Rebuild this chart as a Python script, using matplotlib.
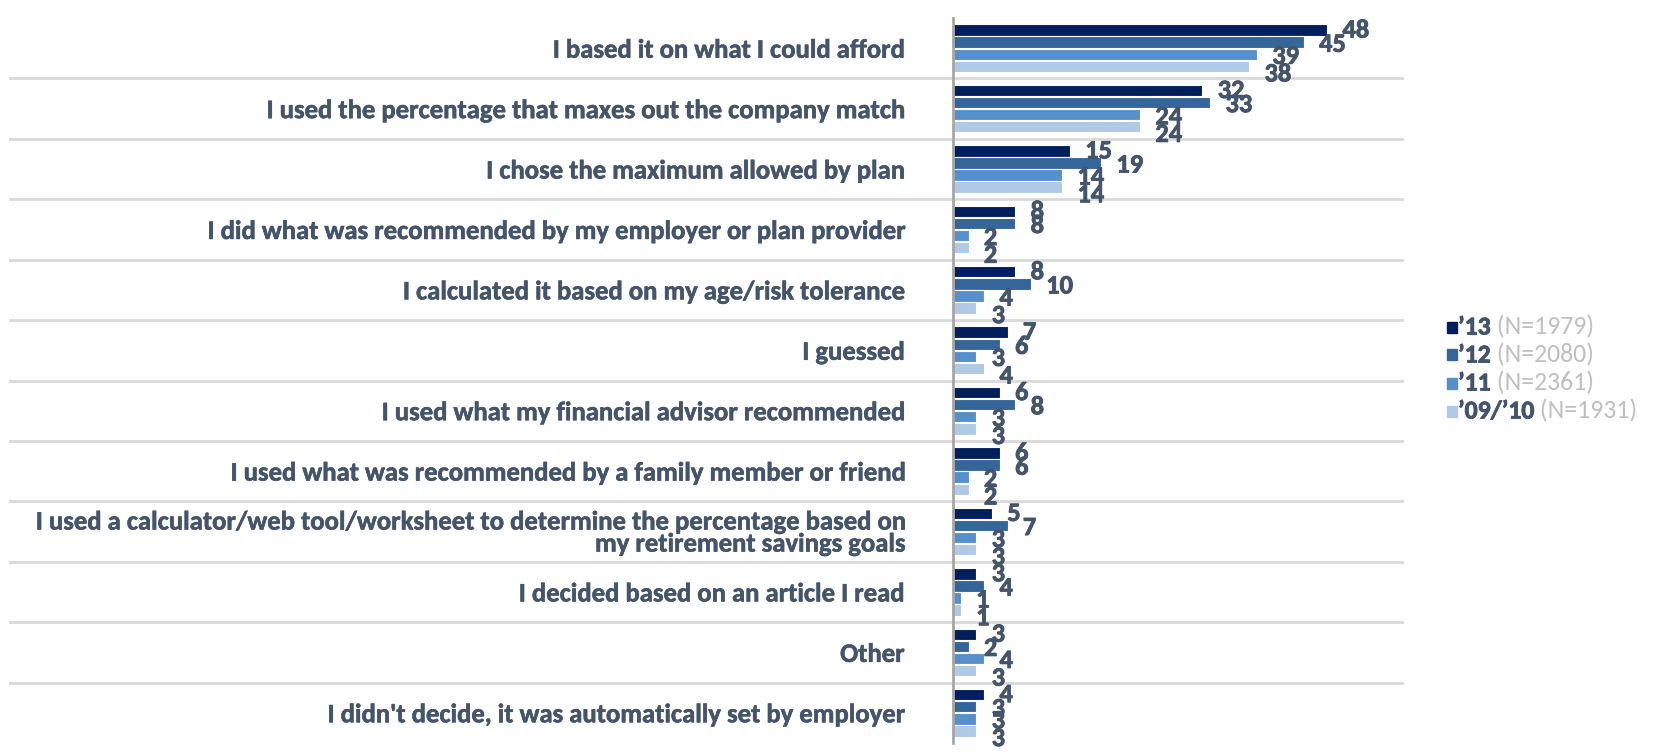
import numpy as np
import matplotlib
matplotlib.use("Agg")
import matplotlib.pyplot as plt
import matplotlib.transforms as mtransforms
import matplotlib.patheffects as pe
from matplotlib.patches import Rectangle

plt.rcParams['font.family'] = ['Carlito', 'DejaVu Sans']

categories = [
    "I based it on what I could afford",
    "I used the percentage that maxes out the company match",
    "I chose the maximum allowed by plan",
    "I did what was recommended by my employer or plan provider",
    "I calculated it based on my age/risk tolerance",
    "I guessed",
    "I used what my financial advisor recommended",
    "I used what was recommended by a family member or friend",
    "I used a calculator/web tool/worksheet to determine the percentage based on\nmy retirement savings goals",
    "I decided based on an article I read",
    "Other",
    "I didn't decide, it was automatically set by employer",
]
v13 = [48, 32, 15, 8, 8, 7, 6, 6, 5, 3, 3, 4]
v12 = [45, 33, 19, 8, 10, 6, 8, 6, 7, 4, 2, 3]
v11 = [39, 24, 14, 2, 4, 3, 3, 2, 3, 1, 4, 3]
v0910 = [38, 24, 14, 2, 3, 4, 3, 2, 3, 1, 3, 3]
years = ["\u201913", "\u201912", "\u201911", "\u201909/\u201910"]
n_resp = [1979, 2080, 2361, 1931]

colors = ["#001f5c", "#34669a", "#5590cb", "#afc9e6"]
txt_col = "#44546a"
series = [v13, v12, v11, v0910]
offsets = [-0.3, -0.1, 0.1, 0.3]
lab_dy = [0, -1.5, -1.5, -5.5]  # points, labels drift down a bit
heavy = [pe.withStroke(linewidth=0.6, foreground=txt_col)]

fig = plt.figure(figsize=(16.65, 7.52), dpi=100)
ax = fig.add_axes([953 / 1665, 1 - 743 / 752, (1402 - 953) / 1665, 725 / 752])

y = np.arange(len(categories))
for k in range(4):
    bars = ax.barh(y + offsets[k], series[k], height=0.19, color=colors[k],
                   edgecolor="white", linewidth=0.8, zorder=3)
    for b, v in zip(bars, series[k]):
        ax.annotate(str(v), (b.get_width(), b.get_y() + b.get_height() / 2),
                    xytext=(11, lab_dy[k]), textcoords="offset points",
                    ha="left", va="center", fontsize=19, fontweight="bold",
                    color=txt_col, zorder=4, path_effects=heavy)

ax.set_xlim(0, 57.6)
ax.set_ylim(len(categories) - 0.5, -0.5)
ax.set_yticks(y)
ax.set_yticklabels(categories, fontsize=19.2, fontweight="bold", color=txt_col,
                   linespacing=0.95)
for lbl in ax.get_yticklabels():
    lbl.set_path_effects([pe.withStroke(linewidth=0.4, foreground=txt_col)])
ax.tick_params(axis="y", length=0, pad=35)
ax.set_xticks([])
for s in ["top", "right", "bottom"]:
    ax.spines[s].set_visible(False)
ax.spines["left"].set_color("#a6a6a6")
ax.spines["left"].set_linewidth(2)
ax.spines["left"].set_zorder(5)

# separator lines between categories, running into the label area
tr = mtransforms.blended_transform_factory(fig.transFigure, ax.transData)
x_right = 1402 / 1665
for i in range(len(categories) - 1):
    ax.plot([10 / 1665, x_right], [i + 0.5, i + 0.5], transform=tr,
            color="#d9d9d9", lw=2, clip_on=False, zorder=1)

# legend built by hand: bold year + grey sample size
for k in range(4):
    yc = 1 - (327 + 28 * k) / 752
    fig.add_artist(Rectangle((1447 / 1665, yc - 5.5 / 752), 10 / 1665, 11 / 752,
                             transform=fig.transFigure, color=colors[k]))
    t = fig.text(1458 / 1665, yc, years[k], fontsize=18.5, fontweight="bold",
                 color=txt_col, ha="left", va="center", path_effects=heavy)
    ax.annotate(" (N=%d)" % n_resp[k], xy=(1, 0.5), xycoords=t,
                ha="left", va="center", fontsize=18.5, color="#bfbfbf",
                annotation_clip=False)

fig.savefig("out.png", dpi=100)
